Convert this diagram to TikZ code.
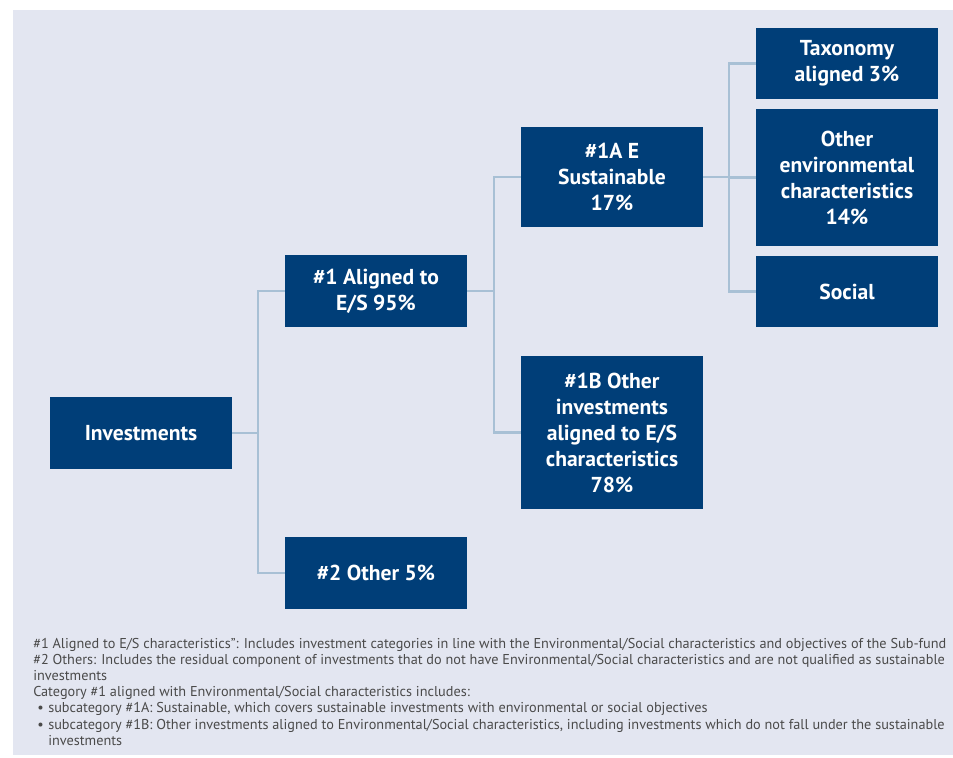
\documentclass[tikz,border=0pt]{standalone}
\usepackage{fontspec}
\setmainfont{PT Sans}
\definecolor{boxblue}{HTML}{003E78}
\definecolor{linkblue}{HTML}{A8C0D5}
\definecolor{panel}{HTML}{E3E6F1}
\definecolor{notegray}{HTML}{4A4A4A}

\begin{document}
\begin{tikzpicture}[x=0.75pt, y=-0.75pt,
  box/.style={fill=boxblue, text=white, align=center, inner sep=0pt,
    minimum width=136.5pt, font=\bfseries\fontsize{16.2}{19.5}\selectfont},
  link/.style={draw=linkblue, line width=2pt},
  note/.style={anchor=north west, inner sep=0pt, align=left, text=notegray,
    font=\fontsize{10.7}{12.1}\selectfont}]
  % Frame
  \useasboundingbox (0,0) rectangle (953,757);
  \clip (0,0) rectangle (953,757);
  \fill[panel] (13,10) rectangle (953,755);

  % Nodes
  \node[box, minimum height=54pt] (inv) at (141,433) {Investments};
  \node[box, minimum height=54pt] (al) at (376,291) {\#1 Aligned to\\E/S 95\%};
  \node[box, minimum height=54pt] (oth) at (376,573) {\#2 Other 5\%};
  \node[box, minimum height=75pt] (a1) at (612,177) {\#1A E\\Sustainable\\17\%};
  \node[box, minimum height=114.75pt] (b1n) at (612,432.5) {\#1B Other\\investments\\aligned to E/S\\characteristics\\78\%};
  \node[box, minimum height=53.25pt] (tax) at (847,63.5) {Taxonomy\\aligned 3\%};
  \node[box, minimum height=102.75pt] (env) at (847,177.5) {Other\\environmental\\characteristics\\14\%};
  \node[box, minimum height=53.25pt] (soc) at (847,291.5) {Social};

  \coordinate (b1) at (258,433);
  \coordinate (b2) at (494,291);
  \coordinate (b3) at (729,177);

  % Edges
  \foreach \p/\b in {inv/b1, al/b2, a1/b3}
    \draw[link] (\p.east) -- (\b);
  \foreach \b/\c in {b1/al, b1/oth, b2/a1, b2/b1n, b3/tax, b3/env, b3/soc}
    \draw[link] (\b) |- (\c.west);

  % Notes
  \node[note] (notes) at (33,638) {%
    \#1 Aligned to E/S characteristics”: Includes investment categories in line with the Environmental/Social characteristics and objectives of the Sub-fund\\
    \#2 Others: Includes the residual component of investments that do not have Environmental/Social characteristics and are not qualified as sustainable\\
    investments\\
    Category \#1 aligned with Environmental/Social characteristics includes:\\
    \makebox[11.25pt][l]{\hspace*{3pt}\textbullet}subcategory \#1A: Sustainable, which covers sustainable investments with environmental or social objectives\\
    \makebox[11.25pt][l]{\hspace*{3pt}\textbullet}subcategory \#1B: Other investments aligned to Environmental/Social characteristics, including investments which do not fall under the sustainable\\
    \hspace*{11.25pt}investments};
\end{tikzpicture}
\end{document}
